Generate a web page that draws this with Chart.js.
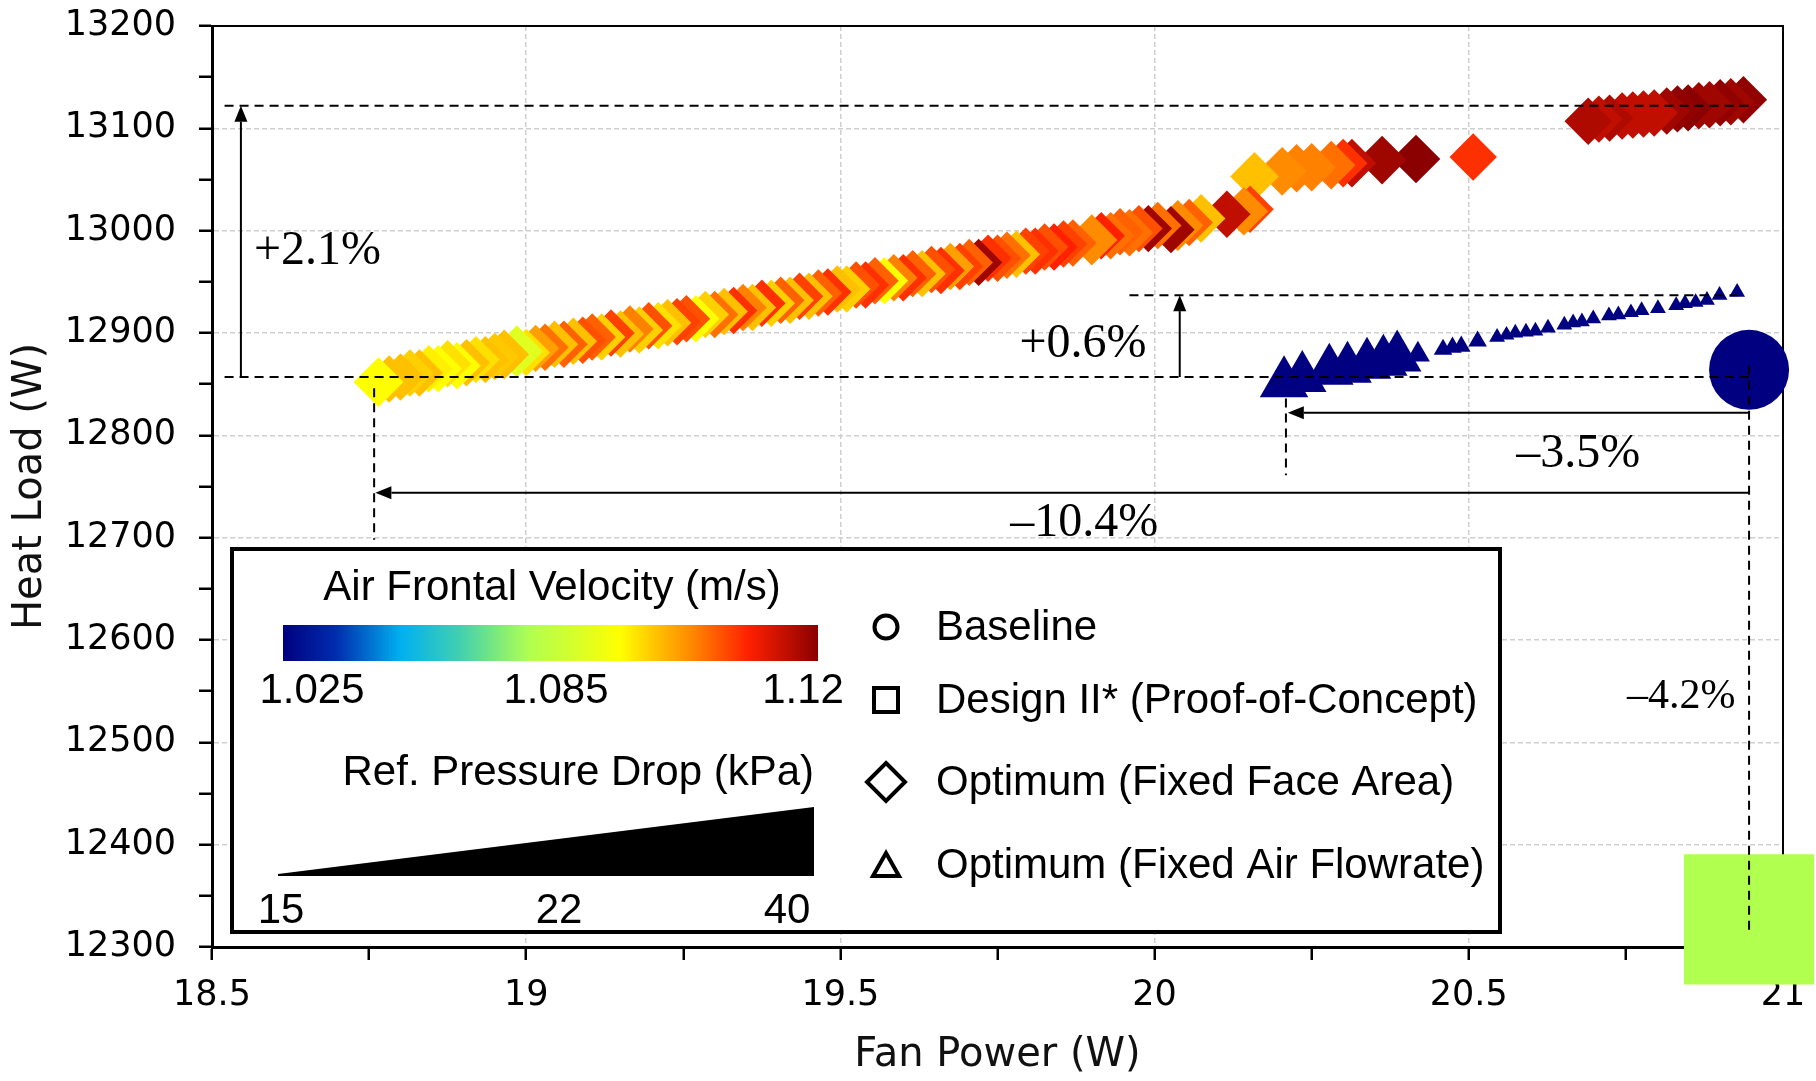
<!DOCTYPE html>
<html><head><meta charset="utf-8">
<script src="https://cdn.jsdelivr.net/npm/chart.js@4.4.1/dist/chart.umd.min.js"></script>
<style>html,body{margin:0;padding:0;background:#fff;}canvas{display:block;}</style>
</head><body>
<canvas id="c" width="1816" height="1081"></canvas>
<script>
// ---------------- DATA ----------------
const xTickLabels = ['18.5','19','19.5','20','20.5','21'];
const yTickLabels = ['12300','12400','12500','12600','12700','12800','12900','13000','13100','13200'];
const velTickLabels = ['1.025','1.085','1.12'];
const dpTickLabels = ['15','22','40'];
const seriesNames = ['Baseline','Design II* (Proof-of-Concept)','Optimum (Fixed Face Area)','Optimum (Fixed Air Flowrate)'];
const xAxisTitle = 'Fan Power (W)';
const yAxisTitle = 'Heat Load (W)';
const velTitle = 'Air Frontal Velocity (m/s)';
const dpTitle = 'Ref. Pressure Drop (kPa)';

const baselineX = [20.946], baselineY = [12864], baselineV = [1.025];
const designX = [20.946], designY = [12327], designV = [1.069];

const faceX = [
18.765,18.782,18.800,18.815,18.830,18.845,18.860,18.875,18.890,18.905,
18.920,18.935,18.950,18.965,18.985,19.000,19.015,19.030,19.045,19.060,
19.075,19.090,19.105,19.120,19.135,19.150,19.165,19.180,19.195,19.210,
19.225,19.240,19.255,19.270,19.285,19.300,19.315,19.330,19.345,19.360,
19.375,19.390,19.405,19.420,19.435,19.450,19.465,19.480,19.495,19.510,
19.525,19.540,19.555,19.570,19.585,19.600,19.615,19.630,19.645,19.660,
19.675,19.690,19.705,19.720,19.735,19.750,19.765,19.780,19.795,19.810,
19.825,19.840,19.855,19.870,19.900,19.915,19.930,19.945,19.960,19.975,
19.990,20.005,20.026,20.037,20.055,20.074,20.115,20.142,20.152,
20.159,20.203,20.226,20.250,20.281,20.300,20.314,20.362,20.416,20.507,
20.690,20.707,20.724,20.744,20.761,20.778,20.795,20.815,20.832,20.849,20.866,20.883,20.900,20.917,20.937];
const faceY = [
12852,12855,12857,12861,12861,12865,12865,12870,12868,12871,
12874,12874,12877,12879,12882,12881,12885,12886,12889,12889,
12892,12893,12896,12896,12900,12899,12904,12903,12907,12907,
12910,12911,12914,12914,12918,12918,12921,12922,12925,12925,
12929,12929,12932,12932,12936,12936,12939,12940,12943,12943,
12947,12947,12951,12951,12954,12954,12958,12958,12962,12961,
12965,12965,12969,12969,12973,12973,12976,12977,12980,12980,
12984,12984,12987,12988,12991,12995,12995,12999,12998,13002,
13002,13005,13001,13005,13008,13012,13016,13019,13021,
13053,13058,13061,13062,13064,13066,13066,13069,13070,13072,
13107,13109,13110,13112,13113,13114,13115,13117,13119,13120,13122,13123,13125,13126,13128];
const faceV = [
1.085,1.0915,1.0915,1.0898,1.0915,1.0865,1.085,1.088,1.085,1.0915,
1.088,1.0915,1.0905,1.0915,1.0788,1.088,1.095,1.0999,1.0915,1.1015,
1.0915,1.103,1.1015,1.0898,1.1045,1.0915,1.0983,1.0898,1.103,1.088,
1.0915,1.1045,1.103,1.085,1.0898,1.0999,1.0915,1.1061,1.0983,1.0915,
1.1061,1.0898,1.1015,1.0915,1.1045,1.0915,1.1015,1.1061,1.0915,1.0898,
1.103,1.1061,1.1015,1.085,1.0983,1.1061,1.1015,1.0915,1.103,1.1061,
1.095,1.1045,1.1015,1.1178,1.1061,1.103,1.0999,1.0915,1.1045,1.1061,
1.103,1.1077,1.1045,1.1015,1.0972,1.1077,1.0999,1.1015,1.0999,1.103,
1.1178,1.0999,1.1178,1.0972,1.1015,1.0915,1.1144,1.0972,1.1045,
1.0915,1.0972,1.0983,1.0983,1.0999,1.1061,1.1144,1.1178,1.12,1.1061,
1.1162,1.1144,1.1162,1.1144,1.1144,1.1144,1.1144,1.1178,1.1195,1.12,1.1178,1.1178,1.1195,1.1178,1.1195];
const faceDP = [
35,33,33,33,33,33,33,33,33,33,
33,33,33,35,37,33,33,33,33,33,
33,33,33,33,33,33,33,33,33,33,
33,33,33,33,33,33,33,33,33,33,
33,33,33,33,33,33,33,33,33,33,
33,33,33,33,33,33,33,33,33,33,
33,33,33,33,33,33,33,33,33,33,
33,33,33,33,36,33,33,33,33,33,
33,33,33,36,33,34,33,34,33,
34,34,34,34,34,34,34,34,34,33,
33,33,33,33,33,33,33,33,33,33,33,33,33,33,33];

const flowX = [20.206,20.235,20.278,20.307,20.338,20.364,20.386,20.419,
20.459,20.474,20.488,20.514,20.545,20.560,20.574,20.591,20.606,20.626,20.652,20.666,20.680,20.698,20.723,20.738,20.758,20.775,20.801,20.830,20.844,20.861,20.879,20.899,20.927];
const flowY = [12851,12856,12863,12865,12869,12872,12876,12879,
12884,12886,12887,12892,12896,12898,12900,12901,12902,12905,12908,12910,12911,12914,12917,12918,12920,12922,12924,12927,12929,12930,12932,12937,12940];
const flowV = [1.025,1.025,1.025,1.025,1.025,1.025,1.025,1.025,
1.025,1.025,1.025,1.025,1.025,1.025,1.025,1.025,1.025,1.025,1.025,1.025,1.025,1.025,1.025,1.025,1.025,1.025,1.025,1.025,1.025,1.025,1.025,1.025,1.025];
const flowDP = [40,40,40,40,40,40,40,20,
18,18,18,18,17,17,17,17,17,17,17,17,17,17,17,17,17,17,17,17,17,17,17,17,17];

// annotation geometry in data units
const dashedRefs = [ [18.52,13122,20.946,13122], [18.52,12857,20.946,12857], [19.96,12937,20.93,12937],
  [18.758,12846,18.758,12698], [20.209,12836,20.209,12761], [20.946,12868,20.946,12311] ];
const arrowRefs = [ [18.546,12857,18.546,13122], [20.040,12857,20.040,12937],
  [20.946,12822,20.212,12822], [20.946,12744,18.760,12744] ];
const noteText = ['+2.1%','+0.6%','\u20133.5%','\u201310.4%','\u20134.2%'];
const noteX = [18.668,19.886,20.674,19.888,20.838];
const noteY = [12980,12889,12781,12714,12544];

// ---------------- STYLE ----------------
const CMAP_STOPS = [0,0.1,0.22,0.33,0.46,0.55,0.63,0.70,0.76,0.87,1];
const CMAP_COLORS = [[0,0,128],[0,45,175],[0,176,240],[64,208,176],[176,255,80],[216,255,40],[255,255,0],[255,192,0],[255,140,0],[255,32,0],[139,0,0]];
const VMIN = parseFloat(velTickLabels[0]), VMAX = parseFloat(velTickLabels[velTickLabels.length-1]);
function velColor(v){
  let f = (v - VMIN)/(VMAX - VMIN); f = Math.max(0, Math.min(1, f));
  for (let i=1;i<CMAP_STOPS.length;i++){
    if (f <= CMAP_STOPS[i]){
      const t = (f - CMAP_STOPS[i-1])/(CMAP_STOPS[i]-CMAP_STOPS[i-1]);
      const a = CMAP_COLORS[i-1], b = CMAP_COLORS[i];
      return 'rgb('+a.map((c,k)=>Math.round(c+(b[k]-c)*t)).join(',')+')';
    }
  }
  return 'rgb(139,0,0)';
}
const DP0 = parseFloat(dpTickLabels[0]), DP1 = parseFloat(dpTickLabels[1]), DP2 = parseFloat(dpTickLabels[2]);
function dpRadius(dp){
  const f = dp <= DP1 ? (dp-DP0)/(DP1-DP0)*0.5 : 0.5 + (dp-DP1)/(DP2-DP1)*0.5;
  return 6 + 22*f;
}
function pts(xs, ys, vs, ds){ return xs.map((x,i)=>({x:x, y:ys[i], v:vs[i], dp: ds ? ds[i] : 0})); }
const colorOf = c => (c.raw ? velColor(c.raw.v) : '#000');
const radOf = c => (c.raw ? dpRadius(c.raw.dp) : 10);

const GRID_COLOR = '#cfcfcf';
const overlay = {
  id: 'overlay',
  beforeDatasetsDraw(chart){
    const {ctx, chartArea:a} = chart;
    ctx.save(); ctx.strokeStyle = '#000'; ctx.lineWidth = 2;
    ctx.beginPath(); ctx.moveTo(a.left, a.top); ctx.lineTo(a.right, a.top); ctx.lineTo(a.right, a.bottom); ctx.stroke();
    ctx.restore();
  },
  afterDatasetsDraw(chart){
    const {ctx, chartArea:a} = chart;
    const sx = chart.scales.x, sy = chart.scales.y;
    const X = v => sx.getPixelForValue(v), Y = v => sy.getPixelForValue(v);
    ctx.save();
    ctx.strokeStyle = '#000'; ctx.fillStyle = '#000'; ctx.lineWidth = 2;
    ctx.setLineDash([9,6]);
    dashedRefs.forEach(d => { ctx.beginPath(); ctx.moveTo(X(d[0]),Y(d[1])); ctx.lineTo(X(d[2]),Y(d[3])); ctx.stroke(); });
    ctx.setLineDash([]);
    arrowRefs.forEach(d => {
      const x1=X(d[0]), y1=Y(d[1]), x2=X(d[2]), y2=Y(d[3]);
      const ang = Math.atan2(y2-y1, x2-x1), L=16, W=6.5;
      const bx = x2 - L*Math.cos(ang), by = y2 - L*Math.sin(ang);
      ctx.beginPath(); ctx.moveTo(x1,y1); ctx.lineTo(bx,by); ctx.stroke();
      ctx.beginPath(); ctx.moveTo(x2,y2);
      ctx.lineTo(bx + W*Math.sin(ang), by - W*Math.cos(ang));
      ctx.lineTo(bx - W*Math.sin(ang), by + W*Math.cos(ang));
      ctx.closePath(); ctx.fill();
    });
    ctx.textAlign = 'center'; ctx.textBaseline = 'middle';
    noteText.forEach((t,i) => {
      ctx.font = (i === 4 ? 42 : 48) + 'px "Liberation Serif"';
      ctx.fillText(t, X(noteX[i]), Y(noteY[i]));
    });
    // ---- legend box ----
    const bx = a.left + 20, by = a.top + 523, bw = 1268, bh = 383;
    ctx.fillStyle = '#fff'; ctx.fillRect(bx, by, bw, bh);
    ctx.lineWidth = 4; ctx.strokeStyle = '#000'; ctx.strokeRect(bx, by, bw, bh);
    ctx.fillStyle = '#000';
    ctx.font = '42px "Liberation Sans"';
    ctx.textAlign = 'center';
    ctx.fillText(velTitle, bx + 320, by + 39);
    const g0 = bx + 51, g1 = bx + 586;
    const grad = ctx.createLinearGradient(g0, 0, g1, 0);
    CMAP_STOPS.forEach((s,i) => grad.addColorStop(s, 'rgb(' + CMAP_COLORS[i].join(',') + ')'));
    ctx.fillStyle = grad; ctx.fillRect(g0, by + 76, g1 - g0, 36);
    ctx.fillStyle = '#000';
    const velLabX = [bx + 80, bx + 324, bx + 571];
    velTickLabels.forEach((t,i) => ctx.fillText(t, velLabX[i], by + 142));
    ctx.textAlign = 'right';
    ctx.fillText(dpTitle, bx + 582, by + 224);
    ctx.beginPath(); ctx.moveTo(bx + 46, by + 325); ctx.lineTo(bx + 582, by + 258); ctx.lineTo(bx + 582, by + 327); ctx.lineTo(bx + 46, by + 327); ctx.closePath(); ctx.fill();
    ctx.textAlign = 'center';
    const dpLabX = [bx + 49, bx + 327, bx + 555];
    dpTickLabels.forEach((t,i) => ctx.fillText(t, dpLabX[i], by + 362));
    // symbol legend
    const ix = bx + 654, tx = bx + 704;
    const rowY = [by + 78, by + 151, by + 233, by + 316];
    ctx.lineWidth = 4; ctx.lineJoin = 'miter';
    ctx.beginPath(); ctx.arc(ix, rowY[0], 11.5, 0, Math.PI*2); ctx.stroke();
    ctx.strokeRect(ix - 12, rowY[1] - 12, 24, 24);
    ctx.beginPath(); ctx.moveTo(ix, rowY[2]-19); ctx.lineTo(ix+19, rowY[2]); ctx.lineTo(ix, rowY[2]+19); ctx.lineTo(ix-19, rowY[2]); ctx.closePath(); ctx.stroke();
    ctx.beginPath(); ctx.moveTo(ix, rowY[3]-12); ctx.lineTo(ix+13, rowY[3]+11); ctx.lineTo(ix-13, rowY[3]+11); ctx.closePath(); ctx.stroke();
    ctx.textAlign = 'left';
    seriesNames.forEach((t,i) => ctx.fillText(t, tx, rowY[i] + 1));
    ctx.restore();
  }
};

function build(){
  new Chart(document.getElementById('c').getContext('2d'), {
    type: 'scatter',
    data: { datasets: [
      { label: seriesNames[0], data: pts(baselineX, baselineY, baselineV), pointStyle: 'circle', pointRadius: 40,
        pointBackgroundColor: colorOf, pointBorderWidth: 0, pointBorderColor: 'rgba(0,0,0,0)', clip: false },
      { label: seriesNames[1], data: pts(designX, designY, designV), pointStyle: 'rect', pointRadius: 92,
        pointBackgroundColor: colorOf, pointBorderWidth: 0, pointBorderColor: 'rgba(0,0,0,0)', clip: false },
      { label: seriesNames[3], data: pts(flowX, flowY, flowV, flowDP).reverse(), pointStyle: 'triangle', pointRadius: radOf,
        pointBackgroundColor: colorOf, pointBorderWidth: 0, pointBorderColor: 'rgba(0,0,0,0)', clip: false },
      { label: seriesNames[2], data: pts(faceX, faceY, faceV, faceDP).reverse(), pointStyle: 'rectRot', pointRadius: radOf,
        pointBackgroundColor: colorOf, pointBorderWidth: 0, pointBorderColor: 'rgba(0,0,0,0)', clip: false }
    ]},
    options: {
      responsive: false, animation: false, events: [],
      layout: { autoPadding: false, padding: { left: 0, right: 33, top: 26, bottom: 0 } },
      plugins: { legend: { display: false }, tooltip: { enabled: false } },
      scales: {
        x: {
          type: 'linear', min: 18.5, max: 21,
          afterFit: s => { s.height = 134; s.paddingLeft = 0; s.paddingRight = 0; },
          ticks: { stepSize: 0.25, autoSkip: false, maxRotation: 0, minRotation: 0, padding: 15, color: '#000',
            font: { family: 'DejaVu Sans', size: 35 },
            callback: v => xTickLabels.includes(String(v)) ? String(v) : '' },
          grid: { color: c => (c.tick && xTickLabels.includes(String(c.tick.value)) && c.tick.value > 18.5 && c.tick.value < 21) ? GRID_COLOR : 'rgba(0,0,0,0)',
            lineWidth: 1.5, tickLength: 13, tickColor: '#000', tickWidth: 2.5 },
          border: { color: '#000', width: 3, dash: [5,3] },
          title: { display: true, text: xAxisTitle, color: '#111', font: { family: 'DejaVu Sans', size: 40 }, padding: { top: 0, bottom: 1 } }
        },
        y: {
          type: 'linear', min: 12300, max: 13200,
          afterFit: s => { s.width = 212; s.paddingTop = 0; s.paddingBottom = 0; },
          ticks: { stepSize: 50, autoSkip: false, padding: 23, color: '#000',
            font: { family: 'DejaVu Sans', size: 35 },
            callback: v => yTickLabels.includes(String(v)) ? String(v) : '' },
          grid: { color: c => (c.tick && yTickLabels.includes(String(c.tick.value)) && c.tick.value > 12300 && c.tick.value < 13200) ? GRID_COLOR : 'rgba(0,0,0,0)',
            lineWidth: 1.5, tickLength: 13, tickColor: '#000', tickWidth: 2.5 },
          border: { color: '#000', width: 3, dash: [5,3] },
          title: { display: true, text: yAxisTitle, color: '#111', font: { family: 'DejaVu Sans', size: 40 }, padding: { top: 7, bottom: 0 } }
        }
      }
    },
    plugins: [overlay]
  });
}
Promise.all([
  document.fonts.load('35px "DejaVu Sans"'),
  document.fonts.load('42px "Liberation Sans"'),
  document.fonts.load('48px "Liberation Serif"')
]).then(build, build);
</script>
</body></html>
